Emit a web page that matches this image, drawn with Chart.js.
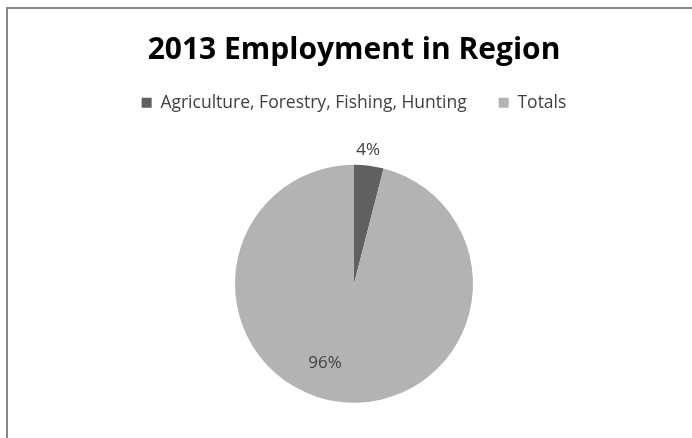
<!DOCTYPE html>
<html>
<head>
<meta charset="utf-8">
<script src="https://cdn.jsdelivr.net/npm/chart.js@4.4.1/dist/chart.umd.min.js"></script>
<style>
  html, body { margin: 0; padding: 0; background: #ffffff; overflow: hidden; }
  #wrap { position: relative; width: 692px; height: 438px; overflow: hidden; }
  #frame {
    position: absolute; left: 6px; top: 7px; width: 700px; height: 450px;
    border-left: 2px solid #878787; border-top: 2px solid #878787;
    box-sizing: border-box; pointer-events: none;
  }
  canvas { position: absolute; left: 0; top: 0; }
</style>
</head>
<body>
<div id="wrap">
  <!-- canvas is a bit taller than the visible frame; the overflow is clipped -->
  <canvas id="chart" width="692" height="460"></canvas>
  <div id="frame"></div>
</div>
<script>
// Employment share by sector, 2013
const categories = ['Agriculture, Forestry, Fishing, Hunting', 'Totals'];
const shares = [4, 96];
const sliceColors = ['#606060', '#b3b3b3'];

const FONT = "'Open Sans', 'Noto Sans', sans-serif";

// Percentage labels placed along each slice's mid-angle
const sliceLabels = {
  id: 'sliceLabels',
  afterDatasetsDraw(chart, args, opts) {
    const ctx = chart.ctx;
    const meta = chart.getDatasetMeta(0);
    const values = chart.data.datasets[0].data;
    const total = values.reduce((a, b) => a + b, 0);
    ctx.save();
    ctx.font = opts.font;
    ctx.fillStyle = opts.color;
    ctx.textAlign = 'center';
    ctx.textBaseline = 'middle';
    meta.data.forEach((arc, i) => {
      const p = arc.getProps(['x', 'y', 'startAngle', 'endAngle', 'outerRadius'], true);
      const place = opts.placement[i] || { radius: 0.7, turn: 0 };
      const mid = (p.startAngle + p.endAngle) / 2 + place.turn * Math.PI / 180;
      const r = p.outerRadius * place.radius;
      const text = Math.round(values[i] / total * 100) + '%';
      ctx.fillText(text, p.x + Math.cos(mid) * r, p.y + Math.sin(mid) * r);
    });
    ctx.restore();
  }
};

new Chart(document.getElementById('chart'), {
  type: 'pie',
  data: {
    labels: categories,
    datasets: [{
      data: shares,
      backgroundColor: sliceColors,
      borderWidth: 0,
      radius: 119
    }]
  },
  plugins: [sliceLabels],
  options: {
    responsive: false,
    animation: false,
    events: [],
    layout: { padding: { left: 16, right: 0, top: 0, bottom: 14 } },
    plugins: {
      title: {
        display: true,
        text: '2013 Employment in Region',
        color: '#000000',
        font: { family: FONT, size: 30, weight: 'bold', lineHeight: 0.8 },
        padding: { top: 38, bottom: 0 }
      },
      legend: {
        display: true,
        position: 'top',
        labels: {
          color: '#404040',
          font: { family: FONT, size: 17.5 },
          boxWidth: 10,
          boxHeight: 10,
          padding: 32
        }
      },
      tooltip: { enabled: false },
      sliceLabels: {
        font: '17px ' + FONT,
        color: '#404040',
        placement: [
          { radius: 1.13, turn: -1.2 },
          { radius: 0.71, turn: 12.9 }
        ]
      }
    }
  }
});
</script>
</body>
</html>
